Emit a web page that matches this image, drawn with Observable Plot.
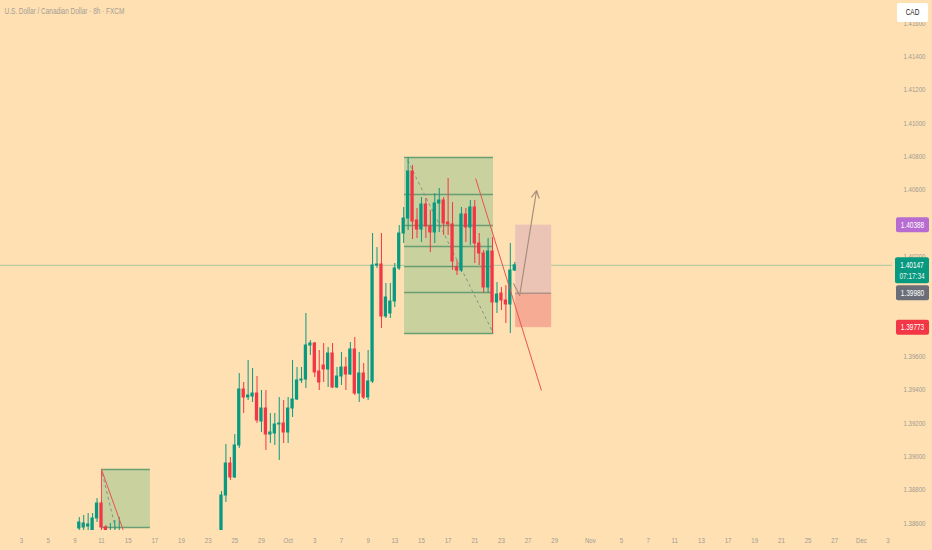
<!DOCTYPE html>
<html><head><meta charset="utf-8">
<script src="https://cdn.jsdelivr.net/npm/d3@7"></script>
<script src="https://cdn.jsdelivr.net/npm/@observablehq/plot@0.6"></script>
<style>
html,body{margin:0;padding:0;background:#ffe0b2;}
#chart{position:relative;width:932px;height:550px;overflow:hidden;}
</style></head><body><div id="chart"></div>
<script>
// ---- data (bar index, OHLC) ----
const barIndex = [13,14,15,16,17,18,19,20,21,22,
  45,46,47,48,49,50,51,52,53,54,55,56,57,58,59,60,61,62,63,64,65,66,67,68,69,70,71,72,73,74,75,76,77,78,79,80,
  81,82,83,84,85,86,87,88,89,90,91,92,93,94,95,96,97,98,99,100,101,102,103,104,105,106,107,108,109,110,111];
const openP = [1.38568,1.38574,1.38580,1.38526,1.38628,1.38718,1.38574,1.38496,1.38496,1.38496,
  1.38376,1.38766,1.38958,1.38874,1.39066,1.39402,1.39354,1.39360,1.39378,1.39210,1.39288,1.39132,1.39138,1.39192,1.39198,1.39144,1.39288,1.39342,1.39456,1.39462,1.39666,1.39678,1.39510,1.39546,1.39522,1.39618,1.39414,1.39480,1.39534,1.39492,1.39642,1.39378,1.39498,1.39354,1.39450,1.40146,
  1.40152,1.39840,1.39858,1.39930,1.40128,1.40338,1.40428,1.40710,1.40416,1.40362,1.40512,1.40380,1.40344,1.40518,1.40536,1.40404,1.40392,1.40134,1.40116,1.40452,1.40374,1.40494,1.40278,1.40218,1.40014,1.40230,1.39924,1.39978,1.39936,1.39912,1.40116];
const highP = [1.38634,1.38646,1.38658,1.38658,1.38748,1.38742,1.38586,1.38598,1.38616,1.38634,
  1.38790,1.39072,1.38994,1.39132,1.39498,1.39444,1.39576,1.39528,1.39480,1.39396,1.39396,1.39258,1.39258,1.39354,1.39336,1.39354,1.39576,1.39534,1.39534,1.39858,1.39696,1.39684,1.39636,1.39678,1.39654,1.39678,1.39534,1.39624,1.39594,1.39684,1.39714,1.39624,1.39558,1.39636,1.40338,1.40254,
  1.40338,1.40038,1.40038,1.40158,1.40386,1.40494,1.40794,1.40746,1.40488,1.40554,1.40548,1.40476,1.40578,1.40608,1.40554,1.40668,1.40524,1.40176,1.40494,1.40488,1.40536,1.40536,1.40338,1.40236,1.40308,1.40314,1.40044,1.40014,1.40026,1.40278,1.40164];
const lowP = [1.38496,1.38496,1.38496,1.38496,1.38604,1.38556,1.38466,1.38466,1.38466,1.38466,
  1.38346,1.38724,1.38856,1.38868,1.39048,1.39258,1.39336,1.39324,1.39198,1.39144,1.39036,1.39078,1.39066,1.38976,1.39078,1.39078,1.39234,1.39336,1.39438,1.39408,1.39606,1.39474,1.39396,1.39444,1.39414,1.39408,1.39408,1.39426,1.39396,1.39486,1.39366,1.39324,1.39342,1.39336,1.39438,1.40128,
  1.39768,1.39828,1.39828,1.39894,1.40116,1.40278,1.40356,1.40302,1.40308,1.40284,1.40308,1.40224,1.40278,1.40344,1.40326,1.40326,1.40116,1.40086,1.40104,1.40284,1.40266,1.40158,1.40146,1.39978,1.39978,1.39738,1.39858,1.39876,1.39798,1.39738,1.40110];
const closeP = [1.38604,1.38598,1.38592,1.38628,1.38718,1.38574,1.38496,1.38544,1.38538,1.38544,
  1.38766,1.38958,1.38874,1.39066,1.39402,1.39354,1.39366,1.39378,1.39216,1.39288,1.39132,1.39144,1.39192,1.39198,1.39144,1.39288,1.39342,1.39456,1.39462,1.39666,1.39678,1.39504,1.39444,1.39522,1.39618,1.39414,1.39480,1.39534,1.39492,1.39642,1.39378,1.39498,1.39354,1.39450,1.40146,1.40152,
  1.39840,1.39954,1.39930,1.40128,1.40338,1.40428,1.40710,1.40410,1.40362,1.40512,1.40380,1.40344,1.40518,1.40536,1.40398,1.40392,1.40170,1.40116,1.40452,1.40374,1.40494,1.40278,1.40218,1.40014,1.40230,1.39924,1.39972,1.39936,1.39912,1.40116,1.40147];

// axis ticks (labels hidden behind the price tags are left out)
const xTickPos = [0,6,12,18,24,30,36,42,48,54,60,66,72,78,84,90,96,102,108,114,120,128,135,141,147,153,159,165,171,177,183,189,195];
const xTickLabels = ["3","5","9","11","15","17","19","23","25","29","Oct","3","7","9","13","15","17","21","23","27","29","Nov","5","7","11","13","17","19","21","25","27","Dec","3"];
const yTicks = [1.386,1.388,1.390,1.392,1.394,1.396,1.402,1.406,1.408,1.410,1.412,1.414,1.416];

// drawings
const fibBox = [{x1: 86.2, x2: 106.2, y1: 1.39738, y2: 1.40794}];
const fibLevels = [1.40794, 1.40572, 1.40386, 1.40260, 1.40140, 1.39984, 1.39738];
const smallBox = [{x1: 18.0, x2: 29.0, y1: 1.38574, y2: 1.38922}];
const smallLevels = [1.38922, 1.38574];
const dashedLines = [{x1: 86.9, y1: 1.40776, x2: 106.2, y2: 1.39738}, {x1: 18.2, y1: 1.38898, x2: 21.6, y2: 1.38520}];
const redLines = [{x1: 102.2, y1: 1.40668, x2: 117.0, y2: 1.39396}, {x1: 18.0, y1: 1.38922, x2: 23.4, y2: 1.38520}, {x1: 18.0, y1: 1.38922, x2: 18.0, y2: 1.38736}];
const positionProfit = [{x1: 111.2, x2: 119.3, y1: 1.39980, y2: 1.40388}];
const positionStop = [{x1: 111.2, x2: 119.3, y1: 1.39773, y2: 1.39980}];
const entryPrice = 1.39980;
const pathLeg = [{x1: 110.7, y1: 1.40038, x2: 112.1, y2: 1.39966}];
const pathArrow = [{x1: 112.1, y1: 1.39966, x2: 115.9, y2: 1.40596}];
const lastPrice = 1.40147;
const tags = [
  {v: 1.40388, color: "#b86bd0", text: "1.40388"},
  {v: 1.39980, color: "#6b6e78", text: "1.39980"},
  {v: 1.39773, color: "#f23645", text: "1.39773"}
];
const countdown = "07:17:34";
const title = "U.S. Dollar / Canadian Dollar · 8h · FXCM";

const UP = "#089981", DOWN = "#f23645";
const FONT = "'Liberation Sans Narrow', 'Liberation Sans', Roboto, sans-serif";
const NARROW = 0.76; // the reference's typeface is condensed

const candles = barIndex.map((x, k) => ({x, o: openP[k], h: highP[k], l: lowP[k], c: closeP[k],
  up: closeP[k] >= openP[k], lo: Math.min(openP[k], closeP[k]), hi: Math.max(openP[k], closeP[k])}));
const labelMap = new Map(xTickPos.map((p, k) => [p, xTickLabels[k]]));

const chart = Plot.plot({
  width: 932, height: 550,
  marginTop: 0, marginBottom: 20, marginLeft: 0, marginRight: 40,
  style: {background: "transparent", fontFamily: FONT, fontSize: "8px", color: "#a09a92", overflow: "visible"},
  x: {type: "linear", domain: [-4.725, 196.0], ticks: xTickPos, tickFormat: d => labelMap.get(d) ?? "", tickSize: 0, tickPadding: 7, label: null},
  y: {domain: [1.38556, 1.41736], axis: "right", ticks: yTicks, tickFormat: d3.format(".5f"), tickSize: 0, tickPadding: 11, label: null},
  marks: [
    Plot.ruleY([lastPrice], {stroke: UP, strokeOpacity: 0.35, strokeWidth: 1}),
    Plot.rect(fibBox, {x1: "x1", x2: "x2", y1: "y1", y2: "y2", fill: "#c9d19e"}),
    Plot.ruleY(fibLevels, {x1: fibBox[0].x1, x2: fibBox[0].x2, stroke: "#6a9f74", strokeWidth: 1.3}),
    Plot.rect(smallBox, {x1: "x1", x2: "x2", y1: "y1", y2: "y2", fill: "#c9d19e", clip: true}),
    Plot.ruleY(smallLevels, {x1: smallBox[0].x1, x2: smallBox[0].x2, stroke: "#6a9f74", strokeWidth: 1.3, clip: true}),
    Plot.rect(positionProfit, {x1: "x1", x2: "x2", y1: "y1", y2: "y2", fill: "#ebc4b6"}),
    Plot.rect(positionStop, {x1: "x1", x2: "x2", y1: "y1", y2: "y2", fill: "#f6ac94"}),
    Plot.ruleY([entryPrice], {x1: positionProfit[0].x1, x2: positionProfit[0].x2, stroke: "#8a8580", strokeWidth: 1}),
    Plot.link(dashedLines, {x1: "x1", y1: "y1", x2: "x2", y2: "y2", stroke: "#8d8f86", strokeWidth: 1, strokeDasharray: "3,3", clip: true}),
    Plot.ruleX(candles, {x: "x", y1: "l", y2: "h", stroke: d => d.up ? UP : DOWN, strokeWidth: 1, clip: true}),
    Plot.rect(candles, {x1: d => d.x - 0.37, x2: d => d.x + 0.37, y1: "lo", y2: "hi", fill: d => d.up ? UP : DOWN, insetTop: -0.5, insetBottom: -0.5, clip: true}),
    Plot.link(redLines, {x1: "x1", y1: "y1", x2: "x2", y2: "y2", stroke: "#e8534f", strokeWidth: 1, clip: true}),
    Plot.link(pathLeg, {x1: "x1", y1: "y1", x2: "x2", y2: "y2", stroke: "#a88d7c", strokeWidth: 1.2}),
    Plot.arrow(pathArrow, {x1: "x1", y1: "y1", x2: "x2", y2: "y2", stroke: "#a88d7c", strokeWidth: 1.2, headLength: 10, headAngle: 55, bend: 0}),
    Plot.text([title], {frameAnchor: "top-left", dx: 4, dy: 7, fill: "#a39d95", fontSize: 8.5, textAnchor: "start"})
  ]
});

document.getElementById("chart").appendChild(chart);

// price tags on the right axis, positioned with the plot's own y scale
const ys = chart.scale("y");
const Y = ys.apply ? (v => ys.apply(v)) : d3.scaleLinear(ys.domain, ys.range);
const svg = d3.select(chart);
const g = svg.append("g").attr("font-family", FONT).attr("font-size", 8.5);

tags.forEach(t => {
  const y = Y(t.v);
  g.append("rect").attr("x", 896).attr("y", y - 7.5).attr("width", 33).attr("height", 15).attr("rx", 2).attr("fill", t.color);
  g.append("text").attr("x", 912.5).attr("y", y).attr("dy", "0.35em").attr("text-anchor", "middle").attr("fill", "#fff").text(t.text);
});
{
  const y = Y(lastPrice);
  g.append("rect").attr("x", 895).attr("y", y - 7.5).attr("width", 34).attr("height", 26).attr("rx", 2).attr("fill", UP);
  g.append("text").attr("x", 912).attr("y", y).attr("dy", "0.35em").attr("text-anchor", "middle").attr("fill", "#fff").text(d3.format(".5f")(lastPrice));
  g.append("text").attr("x", 912).attr("y", y + 11.5).attr("dy", "0.35em").attr("text-anchor", "middle").attr("fill", "#e6f5f0").text(countdown);
}
g.append("rect").attr("x", 897).attr("y", 3).attr("width", 31).attr("height", 19).attr("rx", 2).attr("fill", "#ffffff");
g.append("text").attr("x", 912.5).attr("y", 12.5).attr("dy", "0.35em").attr("text-anchor", "middle").attr("fill", "#222").text("CAD");

// condense every text to match the narrow typeface of the reference
svg.selectAll("text").each(function() {
  const len = this.getComputedTextLength();
  if (len > 0) { this.setAttribute("textLength", (len * NARROW).toFixed(1)); this.setAttribute("lengthAdjust", "spacingAndGlyphs"); }
});
</script>
</body></html>
